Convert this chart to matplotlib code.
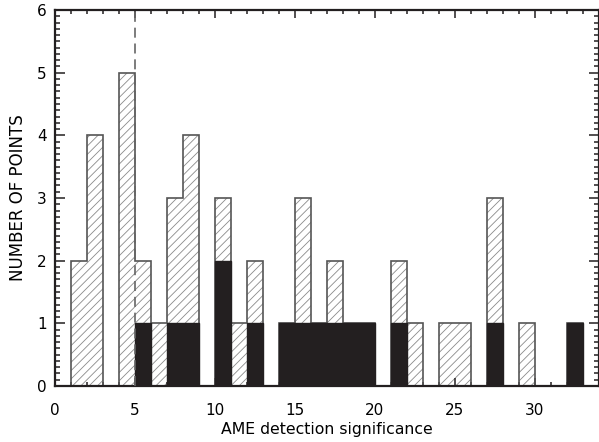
import numpy as np
import matplotlib
matplotlib.use("Agg")
import matplotlib.pyplot as plt
from matplotlib.ticker import MultipleLocator

# Bin edges (AME detection significance, width 1)
edges = np.arange(0, 34, 1)
# All points per bin (hatched)
total_counts = [0, 2, 4, 0, 5, 2, 1, 3, 4, 0, 3, 1, 2, 0, 1, 3, 1, 2, 1, 1,
                0, 2, 1, 0, 1, 1, 0, 3, 0, 1, 0, 0, 1]
# Subset per bin (solid black)
subset_counts = [0, 0, 0, 0, 0, 1, 0, 1, 1, 0, 2, 0, 1, 0, 1, 1, 1, 1, 1, 1,
                 0, 1, 0, 0, 0, 0, 0, 1, 0, 0, 0, 0, 1]
xticks = [0, 5, 10, 15, 20, 25, 30]
yticks = [0, 1, 2, 3, 4, 5, 6]
threshold = 5

plt.rcParams['hatch.linewidth'] = 0.6
plt.rcParams['hatch.color'] = '#8a8a8a'

fig = plt.figure(figsize=(5.99, 4.42), dpi=100)
ax = fig.add_axes([55/599, 56/442, 544/599, 376/442])

ax.stairs(total_counts, edges, fill=True, facecolor='white', edgecolor='#8a8a8a',
          hatch='////', linewidth=0, zorder=1)
ax.stairs(total_counts, edges, fill=False, color='#555555', linewidth=1.2,
          baseline=0, zorder=2)
ax.stairs(subset_counts, edges, fill=True, facecolor='#231f20',
          edgecolor='#231f20', linewidth=1.0, zorder=3)

ax.plot([threshold, threshold], [0, 6], linestyle=(0, (6, 3.5)), color='#666666',
        linewidth=1.2, zorder=4)

ax.set_xlim(0, 34)
ax.set_ylim(0, 6)
ax.set_xticks(xticks)
ax.set_yticks(yticks)
ax.xaxis.set_minor_locator(MultipleLocator(1))
ax.yaxis.set_minor_locator(MultipleLocator(0.1))

ax.tick_params(axis='both', which='both', direction='in', top=True, right=True,
               width=1.1, color='#231f20')
ax.tick_params(axis='x', which='major', length=6, pad=12, labelsize=11)
ax.tick_params(axis='x', which='minor', length=3)
ax.tick_params(axis='y', which='major', length=7, pad=6, labelsize=11)
ax.tick_params(axis='y', which='minor', length=3.5)

for s in ax.spines.values():
    s.set_linewidth(1.6)
    s.set_color('#231f20')

ax.set_xlabel('AME detection significance', fontsize=11.3, labelpad=3)
ax.set_ylabel('NUMBER OF POINTS', fontsize=12, labelpad=7)

fig.savefig('out.png', dpi=100)
